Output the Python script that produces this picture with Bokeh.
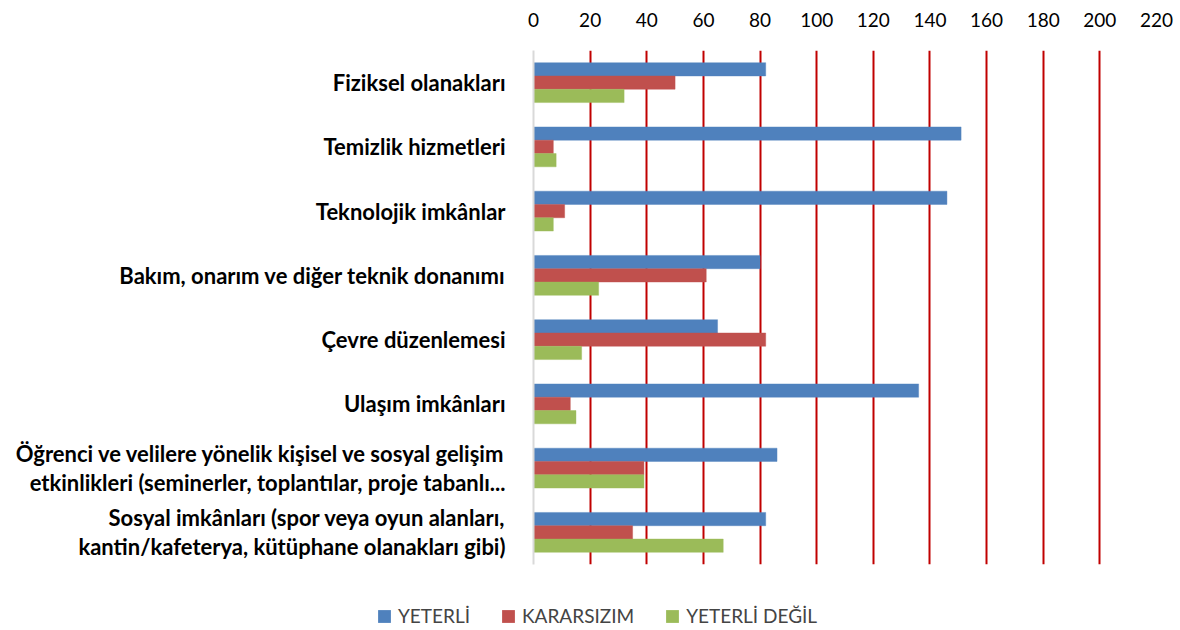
from bokeh.plotting import figure
from bokeh.models import Range1d, FactorRange, Legend, LegendItem, FixedTicker, ColumnDataSource
from bokeh.transform import dodge
from bokeh.embed import file_html
from bokeh.resources import INLINE

categories = [
    "Fiziksel olanakları",
    "Temizlik hizmetleri",
    "Teknolojik imkânlar",
    "Bakım, onarım ve diğer teknik donanımı",
    "Çevre düzenlemesi",
    "Ulaşım imkânları",
    "Öğrenci ve velilere yönelik kişisel ve sosyal gelişim\netkinlikleri (seminerler, toplantılar, proje tabanlı...",
    "Sosyal imkânları (spor veya oyun alanları,\nkantin/kafeterya, kütüphane olanakları gibi)",
]
yeterli = [82, 151, 146, 80, 65, 136, 86, 82]
kararsizim = [50, 7, 11, 61, 82, 13, 39, 35]
yeterli_degil = [32, 8, 7, 23, 17, 15, 39, 67]
series_names = ["YETERLİ", "KARARSIZIM", "YETERLİ DEĞİL"]
x_ticks = list(range(0, 221, 20))

colors = ["#4F81BD", "#C0504D", "#9BBB59"]
W = 1176

src = ColumnDataSource(dict(cat=categories, a=yeterli, b=kararsizim, c=yeterli_degil))

p = figure(
    width=W, height=594,
    y_range=FactorRange(factors=categories[::-1], range_padding=0),
    x_range=Range1d(0, 220),
    x_axis_location="above",
    output_backend="svg", toolbar_location=None,
    min_border_left=533, min_border_right=W - 1156, min_border_top=50, min_border_bottom=30,
)
p.outline_line_color = None
p.background_fill_color = "white"

bh = 0.207
p.hbar(y=dodge("cat", bh, range=p.y_range), left=0, right="a", height=bh, source=src,
       fill_color=colors[0], line_color=colors[0], line_alpha=0.4)
p.hbar(y=dodge("cat", 0, range=p.y_range), left=0, right="b", height=bh, source=src,
       fill_color=colors[1], line_color=colors[1], line_alpha=0.4)
p.hbar(y=dodge("cat", -bh, range=p.y_range), left=0, right="c", height=bh, source=src,
       fill_color=colors[2], line_color=colors[2], line_alpha=0.4)

xa = p.xaxis[0]
xa.ticker = FixedTicker(ticks=x_ticks)
xa.axis_line_color = None
xa.major_tick_line_color = None
xa.minor_tick_line_color = None
xa.major_label_standoff = 18
xa.major_label_text_font = "Lato"
xa.major_label_text_font_size = "19px"
xa.major_label_text_color = "#000000"

ya = p.yaxis[0]
ya.axis_line_color = "#D9D9D9"
ya.axis_line_width = 2
ya.major_tick_line_color = None
ya.minor_tick_line_color = None
ya.major_label_standoff = 22
ya.major_label_text_font = "Lato"
ya.major_label_text_font_style = "bold"
ya.major_label_text_font_size = "22px"
ya.major_label_text_line_height = 1.08
ya.major_label_text_color = "#000000"

p.xgrid.ticker = FixedTicker(ticks=x_ticks[1:])
p.xgrid.grid_line_color = "#C00000"
p.xgrid.grid_line_width = 2
p.ygrid.grid_line_color = None

# legend strip (separate root): same data, drawn out of view so only the legend shows
lf = figure(width=W, height=36, x_range=Range1d(-20, -10),
            y_range=FactorRange(factors=categories[::-1]),
            output_backend="svg", toolbar_location=None,
            min_border_left=0, min_border_right=0, min_border_top=0, min_border_bottom=0)
lf.axis.visible = False
lf.grid.visible = False
lf.outline_line_color = None
lf.background_fill_color = "white"
dummy = []
for c, col in zip(colors, ["a", "b", "c"]):
    dummy.append(lf.hbar(y="cat", left=0, right=col, height=0.5, source=src,
                         fill_color=c, line_color=None))

legend = Legend(
    items=[LegendItem(label=n, renderers=[r]) for n, r in zip(series_names, dummy)],
    orientation="horizontal", location=(376, 3),
    label_text_font="Lato", label_text_font_size="19px", label_height=20,
    glyph_width=16, glyph_height=16, label_standoff=6, spacing=30,
    border_line_color=None, background_fill_alpha=0, margin=0, padding=0,
)
lf.add_layout(legend, "center")

open("out.html", "w").write(file_html([p, lf], INLINE))
